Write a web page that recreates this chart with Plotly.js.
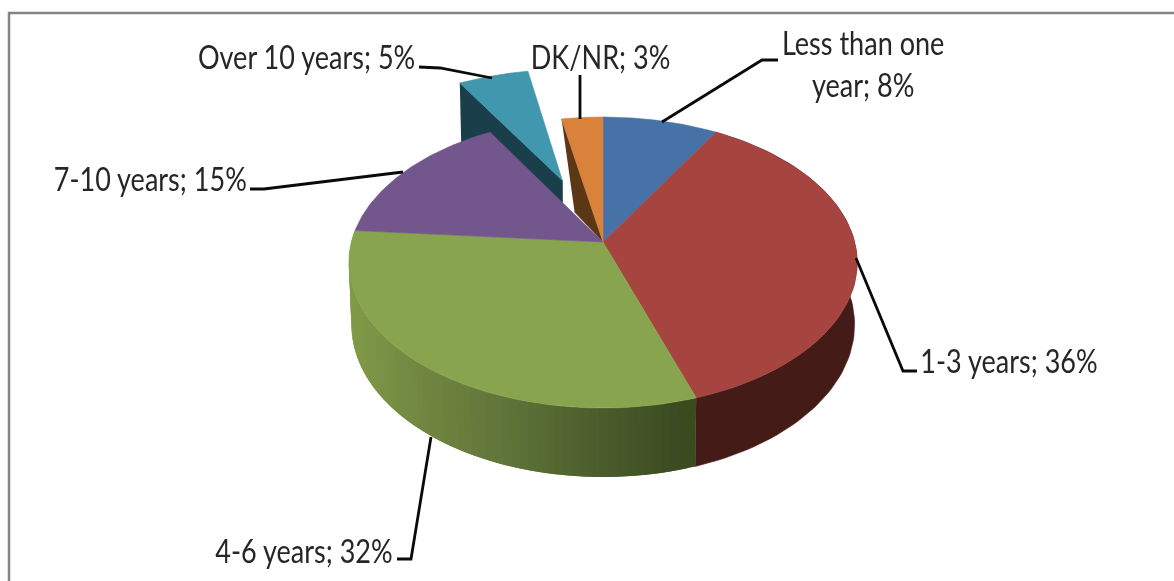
<!DOCTYPE html>
<html><head><meta charset="utf-8">
<script src="https://cdn.plot.ly/plotly-3.0.1.min.js"></script>
<style>html,body{margin:0;padding:0;background:#fff}#c{width:1174px;height:581px;filter:blur(0.45px)}</style>
</head><body><div id="c"></div>
<script>
const categories = ['Less than one<br>year','1-3 years','4-6 years','7-10 years','Over 10 years','DK/NR'];
const values = [8.4,36.4,31.5,15.3,5.4,3.0];
const topColors = ['#4672a8','#a64440','#88a44e','#72568c','#4097ae','#d9823c'];
const cutColors = {4:'#1a3f4a',5:'#5c3716'};
const leaderX = [[662,762,778],[856,903,917],[431,411,397],[403,264,250],[492,440,419],[580,580]];
const leaderY = [[122,60,60],[258,371,371],[437,559,559],[172,189,189],[78,68,67],[119,75]];
const labelX = [863,1009,304,150,306,600];
const labelY = [63,360,550,178,56,56];
const TEXT_SQUEEZE = 0.845;

// pie geometry (projected disc)
const CX=603, CY=242, A=251.6, B=142.6, K=-0.141, EXPL=0.49;
const total = values.reduce((s,v)=>s+v,0);
let acc=0;
const spans = values.map(v=>{const s=acc/total*2*Math.PI; acc+=v; return [s,acc/total*2*Math.PI];});
function proj(u,v,z){
  const den=1+K*v, sh=61+8*Math.max(v,0);
  return [CX+A*u/den*(1-0.01*z), CY+B*v/den+sh*z];
}
function off(i){
  if(i!==4) return [0,0];
  const m=(spans[i][0]+spans[i][1])/2;
  return [EXPL*Math.sin(m), -EXPL*Math.cos(m)];
}
function rim(t,i,z){const o=off(i);return proj(Math.sin(t)+o[0],-Math.cos(t)+o[1],z);}
function apex(i,z){const o=off(i);return proj(o[0],o[1],z);}
function poly(pts,color,name,lw){
  return {type:'scatter',mode:'lines',x:pts.map(p=>p[0]),y:pts.map(p=>p[1]),fill:'toself',fillcolor:color,
    line:{color:color,width:lw===undefined?0.6:lw},hoverinfo:'skip',showlegend:false,name:name||''};
}
function topFace(i){
  const pts=[apex(i,0)], n=80;
  for(let j=0;j<=n;j++){pts.push(rim(spans[i][0]+(spans[i][1]-spans[i][0])*j/n,i,0));}
  pts.push(apex(i,0));
  return poly(pts,topColors[i],categories[i]);
}
function mix(c1,c2,f){return 'rgb('+c1.map((c,k)=>Math.round(c+(c2[k]-c)*f)).join(',')+')';}
const greenStops=[[350,[128,155,72]],[430,[112,134,64]],[520,[94,115,56]],[620,[72,90,42]],[695,[58,74,32]]];
function greenAt(x){
  for(let k=0;k<greenStops.length-1;k++){
    const a=greenStops[k],b=greenStops[k+1];
    if(x<=b[0]) return mix(a[1],b[1],Math.max(0,(x-a[0])/(b[0]-a[0])));
  }
  return mix(greenStops[4][1],greenStops[4][1],0);
}
const traces=[];
traces.push(poly([rim(spans[4][0],4,0),apex(4,0),apex(4,1),rim(spans[4][0],4,1)],cutColors[4]));
traces.push(topFace(4));
const rO=rim(spans[5][0],5,0);
traces.push(poly([rO,apex(5,0),[rO[0]+13,rO[1]+93]],cutColors[5]));
{const pts=[],n=80,s=spans[1];
 for(let j=0;j<=n;j++)pts.push(rim(s[0]+(s[1]-s[0])*j/n,1,0));
 for(let j=n;j>=0;j--)pts.push(rim(s[0]+(s[1]-s[0])*j/n,1,1));
 traces.push(poly(pts,'#451b17'));}
// green side: painted from the left, every band overlapping the band before it
{const n=64,s=spans[2],d=(s[1]-s[0])/n;
 for(let j=n-1;j>=0;j--){
  const t0=s[0]+d*j,t1=Math.min(s[1],t0+d*2);
  const pm=rim(t0+d/2,2,0);
  const pts=[];
  for(let q=0;q<=4;q++)pts.push(rim(t0+(t1-t0)*q/4,2,0));
  for(let q=4;q>=0;q--)pts.push(rim(t0+(t1-t0)*q/4,2,1));
  traces.push(poly(pts,greenAt(pm[0]),'',0));
 }}
[0,1,2,3,5].forEach(i=>traces.push(topFace(i)));
leaderX.forEach((lx,i)=>traces.push({type:'scatter',mode:'lines',x:lx,y:leaderY[i],
  line:{color:'#0a0a0a',width:2.8},hoverinfo:'skip',showlegend:false}));
const annotations=categories.map((c,i)=>({x:labelX[i],y:labelY[i],xref:'x',yref:'y',text:c+'; '+Math.round(values[i])+'%',
  showarrow:false,xanchor:'center',yanchor:'middle',align:'center',
  font:{family:'Lato,sans-serif',size:32,color:'#262626'}}));
const layout={width:1174,height:581,margin:{l:0,r:0,t:0,b:0},paper_bgcolor:'#fff',plot_bgcolor:'#fff',showlegend:false,
  xaxis:{range:[0,1174],visible:false,fixedrange:true},
  yaxis:{range:[581,0],visible:false,fixedrange:true},
  annotations,
  shapes:[{type:'rect',xref:'x',yref:'y',x0:9,y0:13,x1:1190,y1:600,line:{color:'#858585',width:2.5},layer:'below'}]};
Plotly.newPlot('c',traces,layout,{displayModeBar:false,staticPlot:true}).then(()=>{
  document.querySelectorAll('#c .annotation-text').forEach(t=>{
    const lines=t.querySelectorAll('tspan.line');
    (lines.length?Array.from(lines):[t]).forEach(el=>{
      const w=el.getComputedTextLength();
      el.setAttribute('textLength',(w*TEXT_SQUEEZE).toFixed(1));
      el.setAttribute('lengthAdjust','spacingAndGlyphs');
    });
  });
});
</script></body></html>
